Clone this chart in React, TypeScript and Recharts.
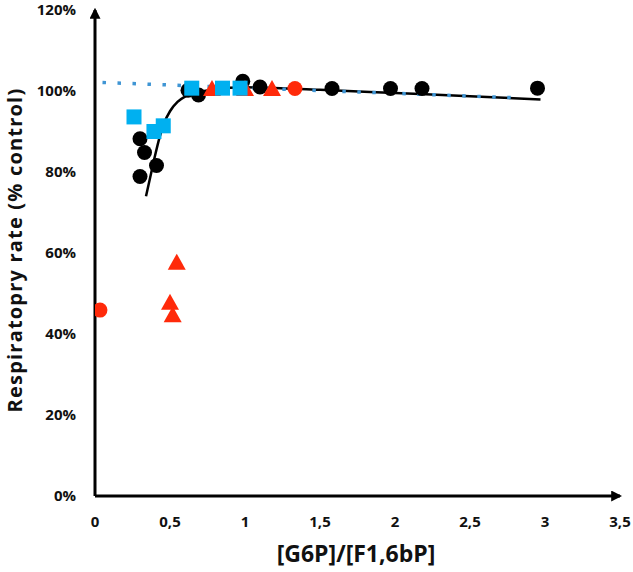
import { ComposedChart, Scatter, Line, XAxis, YAxis, Label } from 'recharts';

// ── Colours ───────────────────────────────────────────────────────────────────
const BLACK = '#000000';
const RED = '#ff2a0a';
const BLUE = '#00b0f0';
const BLUE_FIT = '#3f95d4';
const FONT = '"Open Sans", "Liberation Sans", sans-serif';

// ── Data ─────────────────────────────────────────────────────────────────────
const xTicks = [0, 0.5, 1, 1.5, 2, 2.5, 3, 3.5];
const yTicks = [0, 20, 40, 60, 80, 100, 120];

const blackCircles = [
  { x: 0.30, y: 88.2 },
  { x: 0.33, y: 84.8 },
  { x: 0.30, y: 78.9 },
  { x: 0.41, y: 81.6 },
  { x: 0.62, y: 100.2 },
  { x: 0.69, y: 99.0 },
  { x: 0.985, y: 102.4 },
  { x: 1.10, y: 101.0 },
  { x: 1.58, y: 100.6 },
  { x: 1.97, y: 100.6 },
  { x: 2.18, y: 100.6 },
  { x: 2.95, y: 100.7 },
];

const redCircles = [
  { x: 0.033, y: 45.9 },
  { x: 1.333, y: 100.6 },
];

const redTriangles = [
  { x: 0.545, y: 57.5 },
  { x: 0.50, y: 47.6 },
  { x: 0.518, y: 44.5 },
  { x: 0.78, y: 100.4 },
  { x: 1.0, y: 100.4 },
  { x: 1.18, y: 100.4 },
];

const blueSquares = [
  { x: 0.26, y: 93.6 },
  { x: 0.393, y: 90.0 },
  { x: 0.455, y: 91.4 },
  { x: 0.645, y: 100.7 },
  { x: 0.85, y: 100.7 },
  { x: 0.967, y: 100.7 },
];

// black fitted curve
const blackFit = [
  { x: 0.34, y: 74 },
  { x: 0.37, y: 79 },
  { x: 0.40, y: 84 },
  { x: 0.43, y: 88.5 },
  { x: 0.46, y: 92 },
  { x: 0.50, y: 95 },
  { x: 0.55, y: 97.3 },
  { x: 0.60, y: 98.6 },
  { x: 0.68, y: 99.6 },
  { x: 0.80, y: 100.4 },
  { x: 1.0, y: 100.9 },
  { x: 1.5, y: 100.3 },
  { x: 2.0, y: 99.5 },
  { x: 2.5, y: 98.7 },
  { x: 2.97, y: 97.9 },
];

// blue dotted trend line
const blueFit = [
  { x: 0.05, y: 102.1 },
  { x: 2.82, y: 98.3 },
];

const fmtX = (v: number) => String(v).replace('.', ',');
const fmtY = (v: number) => `${v}%`;

const circle = (color: string) => (p: any) => (
  <circle cx={p.cx} cy={p.cy} r={7.5} fill={color} />
);
const square = (p: any) => (
  <rect x={p.cx - 7.5} y={p.cy - 7.5} width={15} height={15} fill={BLUE} />
);
const triangle = (p: any) => (
  <path d={`M${p.cx},${p.cy - 9.5} L${p.cx + 9},${p.cy + 6.5} L${p.cx - 9},${p.cy + 6.5} Z`} fill={RED} />
);

const tickStyle = { fontFamily: FONT, fontWeight: 700, fontSize: 15, fill: '#111' };

export default function App() {
  return (
    <div style={{ position: 'absolute', left: 0, top: 0, width: 633, height: 572, background: '#fff' }}>
      <svg width={0} height={0} style={{ position: 'absolute' }}>
        <defs>
          <marker id="arrowHead" viewBox="0 0 10 10" refX={8} refY={5} markerUnits="userSpaceOnUse"
            markerWidth={11} markerHeight={11} orient="auto-start-reverse">
            <path d="M0,0 L10,5 L0,10 z" fill={BLACK} />
          </marker>
        </defs>
      </svg>
      <ComposedChart width={633} height={572} margin={{ top: 10, right: 13, bottom: 0, left: 0 }}>
        <XAxis
          type="number"
          dataKey="x"
          domain={[0, 3.5]}
          ticks={xTicks}
          tickFormatter={fmtX}
          height={76}
          tickLine={false}
          tickSize={0}
          tickMargin={20}
          axisLine={{ stroke: BLACK, strokeWidth: 3, markerEnd: 'url(#arrowHead)' }}
          tick={tickStyle}
          allowDataOverflow
        >
          <Label
            content={() => (
              <text x={356} y={553} textAnchor="middle" dominantBaseline="central"
                style={{ fontFamily: FONT, fontWeight: 700, fontSize: 23, fill: '#111' }}>
                [G6P]/[F1,6bP]
              </text>
            )}
          />
        </XAxis>
        <YAxis
          type="number"
          dataKey="y"
          domain={[0, 120]}
          ticks={yTicks}
          tickFormatter={fmtY}
          width={95}
          tickLine={false}
          tickSize={0}
          tickMargin={19}
          axisLine={{ stroke: BLACK, strokeWidth: 3, markerStart: 'url(#arrowHead)' }}
          tick={tickStyle}
          allowDataOverflow
        >
          <Label
            content={() => (
              <text x={14} y={250} transform="rotate(-90 14 250)" textAnchor="middle" dominantBaseline="central"
                style={{ fontFamily: FONT, fontWeight: 700, fontSize: 20, letterSpacing: 1.2, fill: '#111' }}>
                Respiratopry rate (% control)
              </text>
            )}
          />
        </YAxis>
        <Scatter data={blackCircles} dataKey="y" shape={circle(BLACK)} isAnimationActive={false} />
        <Scatter data={redTriangles} dataKey="y" shape={triangle} isAnimationActive={false} />
        <Scatter data={blueSquares} dataKey="y" shape={square} isAnimationActive={false} />
        <Scatter data={redCircles} dataKey="y" shape={circle(RED)} isAnimationActive={false} />
        <Line data={blackFit} dataKey="y" type="monotone" stroke={BLACK} strokeWidth={2.5}
          dot={false} activeDot={false} isAnimationActive={false} />
        <Line data={blueFit} dataKey="y" type="linear" stroke={BLUE_FIT} strokeWidth={3.5}
          strokeDasharray="3.5 11.5" dot={false} activeDot={false} isAnimationActive={false} />
      </ComposedChart>
    </div>
  );
}
